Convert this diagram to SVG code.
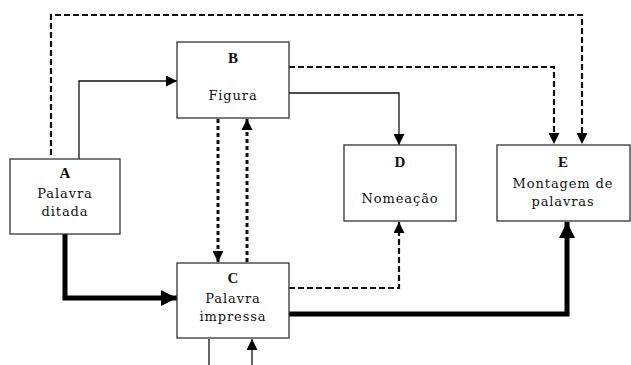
<svg xmlns="http://www.w3.org/2000/svg" width="631" height="365" viewBox="0 0 631 365">
<style>
.box{fill:#fff;stroke:#333;stroke-width:1.3}
.t{font-family:"DejaVu Serif","Liberation Serif",serif;font-size:13px;letter-spacing:0.9px;fill:#111;text-anchor:middle}
.h{font-family:"Liberation Serif","DejaVu Serif",serif;font-size:15px;font-weight:bold;fill:#111;text-anchor:middle}
.thin{fill:none;stroke:#111;stroke-width:1.3}
.dash{fill:none;stroke:#111;stroke-width:2.2;stroke-dasharray:6 3}
.dot{fill:none;stroke:#111;stroke-width:3;stroke-dasharray:4 3}
.thick{fill:none;stroke:#000;stroke-width:5}
</style>
<defs>
<marker id="ah" markerUnits="userSpaceOnUse" markerWidth="11" markerHeight="11" viewBox="0 0 10 10" refX="10" refY="5" orient="auto"><path d="M0,0 L10,5 L0,10 z" fill="#000"/></marker>
<marker id="ahb" markerUnits="userSpaceOnUse" markerWidth="16" markerHeight="16" viewBox="0 0 16 16" refX="16" refY="8" orient="auto"><path d="M0,0 L16,8 L0,16 z" fill="#000"/></marker>
</defs>
<rect width="631" height="365" fill="#fff"/>
<g id="connectors">
<path class="dash" d="M51,155 V15 H582 V144" marker-end="url(#ah)"/>
<path class="thin" d="M79,159 V81 H177" marker-end="url(#ah)"/>
<path class="dash" d="M289,67 H554 V144" marker-end="url(#ah)"/>
<path class="thin" d="M289,93 H399 V145" marker-end="url(#ah)"/>
<path class="dot" d="M218,119 V262" marker-end="url(#ah)"/>
<path class="dot" d="M247,262 V119" marker-end="url(#ah)"/>
<path class="dash" d="M289,288 H399 V222" marker-end="url(#ah)"/>
<path class="thick" d="M289,314 H567 V222" marker-end="url(#ahb)"/>
<path class="thick" d="M65,234 V298 H177" marker-end="url(#ahb)"/>
<path class="thin" d="M209,339 V365"/>
<path class="thin" d="M252,365 V339" marker-end="url(#ah)"/>
</g>
<g id="A">
<rect class="box" x="10" y="159" width="110" height="75"/>
<text class="h" x="65" y="178">A</text>
<text class="t" x="65" y="198">Palavra</text>
<text class="t" x="65" y="216">ditada</text>
</g>
<g id="B">
<rect class="box" x="177" y="42" width="112" height="76"/>
<text class="h" x="233" y="63">B</text>
<text class="t" x="233" y="100">Figura</text>
</g>
<g id="C">
<rect class="box" x="177" y="263" width="112" height="75"/>
<text class="h" x="233" y="283">C</text>
<text class="t" x="233" y="303">Palavra</text>
<text class="t" x="233" y="321">impressa</text>
</g>
<g id="D">
<rect class="box" x="344" y="145" width="112" height="76"/>
<text class="h" x="400" y="167">D</text>
<text class="t" x="400" y="203">Nomeação</text>
</g>
<g id="E">
<rect class="box" x="497" y="145" width="133" height="76"/>
<text class="h" x="563" y="167">E</text>
<text class="t" x="563" y="188">Montagem de</text>
<text class="t" x="563" y="206">palavras</text>
</g>
</svg>
